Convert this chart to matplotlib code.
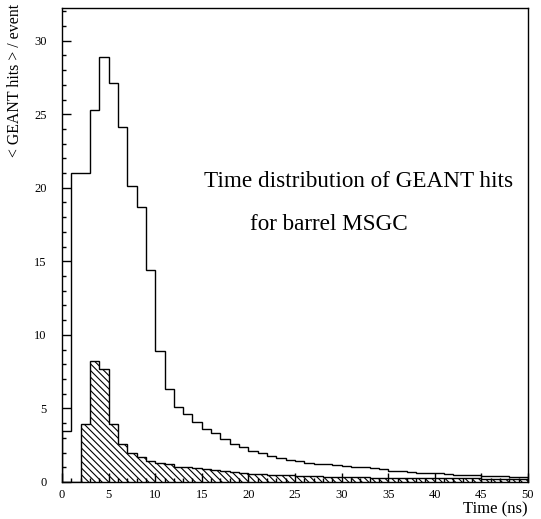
import numpy as np
import matplotlib
matplotlib.use("Agg")
import matplotlib.pyplot as plt
from matplotlib.ticker import MultipleLocator

# 1 ns bins from 0 to 50 ns
bin_edges = np.arange(0, 51, 1)

# all GEANT hits per event
all_hits = [3.5, 21.0, 21.0, 25.3, 28.9, 27.1, 24.1, 20.1, 18.7, 14.4,
            8.9, 6.3, 5.1, 4.6, 4.1, 3.6, 3.3, 2.9, 2.6, 2.35,
            2.1, 1.95, 1.8, 1.65, 1.5, 1.4, 1.3, 1.25, 1.2, 1.15,
            1.1, 1.05, 1.0, 0.92, 0.85, 0.78, 0.72, 0.68, 0.64, 0.6,
            0.58, 0.52, 0.5, 0.48, 0.45, 0.42, 0.4, 0.38, 0.36, 0.33]

# hatched subset
sub_hits = [0.0, 0.0, 3.95, 8.2, 7.7, 3.95, 2.55, 2.0, 1.7, 1.45,
            1.3, 1.2, 1.05, 1.05, 0.92, 0.88, 0.82, 0.75, 0.68, 0.6,
            0.57, 0.55, 0.5, 0.48, 0.45, 0.43, 0.4, 0.38, 0.36, 0.35,
            0.33, 0.32, 0.31, 0.3, 0.3, 0.29, 0.28, 0.27, 0.27, 0.26,
            0.26, 0.25, 0.25, 0.24, 0.24, 0.23, 0.23, 0.22, 0.22, 0.22]

plt.rcParams['font.family'] = ['Liberation Serif', 'DejaVu Serif']
plt.rcParams['hatch.linewidth'] = 0.8

fig = plt.figure(figsize=(5.41, 5.19), dpi=100)
ax = fig.add_axes([62/541, 1-482/519, (528-62)/541, (482-8)/519])

ax.stairs(sub_hits, bin_edges, fill=True, facecolor='white',
          edgecolor='black', hatch='\\' * 5, linewidth=1.0)
ax.stairs(all_hits, bin_edges, color='black', linewidth=1.0)

ax.set_xlim(0, 50)
ax.set_ylim(0, 32.22)

ax.xaxis.set_major_locator(MultipleLocator(5))
ax.xaxis.set_minor_locator(MultipleLocator(1))
ax.yaxis.set_major_locator(MultipleLocator(5))
ax.yaxis.set_minor_locator(MultipleLocator(1))
ax.tick_params(which='both', direction='in', top=False, right=False,
               labelsize=9, width=1.0)
ax.tick_params(which='major', length=6.5)
ax.tick_params(which='minor', length=3.2)
ax.tick_params(axis='y', pad=11)
ax.tick_params(axis='x', pad=5)
for s in ax.spines.values():
    s.set_linewidth(1.0)

ax.text(15.2, 20.4, 'Time distribution of GEANT hits', fontsize=16.7,
        ha='left', va='center')
ax.text(20.2, 17.5, 'for barrel MSGC', fontsize=16.7, ha='left', va='center')

fig.text(15/541, 1-4/519, '< GEANT hits > / event', rotation=90,
         ha='center', va='top', fontsize=11.4)
fig.text(528/541, 1-509/519, 'Time (ns)', ha='right', va='center',
         fontsize=12)

fig.savefig('out.png', dpi=100)
